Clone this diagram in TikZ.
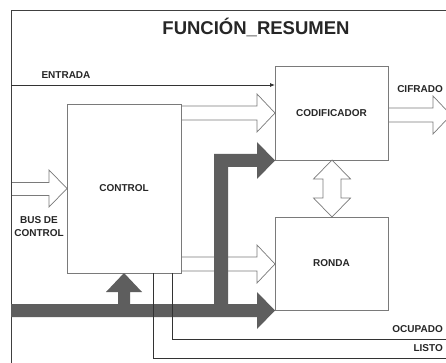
\documentclass[tikz,border=0pt]{standalone}
\usepackage{fontspec}
\setmainfont{Liberation Sans}
\usetikzlibrary{arrows.meta,calc}
\definecolor{busgray}{HTML}{5E5E5E}
\definecolor{boxline}{HTML}{7A7A7A}
\definecolor{txt}{HTML}{262626}
\tikzset{
  box/.style={draw=boxline, line width=0.8pt, minimum width=#1, outer sep=0pt, inner sep=0pt, font=\fontsize{10}{12}\selectfont\bfseries, text=txt},
  outl/.style={draw=boxline, line width=0.7pt, fill=white, line join=miter},
  bus/.style={fill=busgray, draw=none},
  sig/.style={draw=black!80, line width=0.8pt},
  lbl/.style={font=\fontsize{10}{12}\selectfont\bfseries, text=txt, inner sep=0pt},
}
% horizontal hollow arrow: x start, x tip, y center
\newcommand\hollowarr[3]{%
  \draw[outl] (#1,#3-7) -- (#2-18,#3-7) -- (#2-18,#3-19) -- (#2,#3) -- (#2-18,#3+19) -- (#2-18,#3+7) -- (#1,#3+7);}
\begin{document}
\begin{tikzpicture}[x=1pt,y=-1pt]
\clip (0,0) rectangle (446,363);
\fill[white] (0,0) rectangle (446,363);
% hollow arrows (drawn first so box edges stay on top)
\hollowarr{181}{275}{113}
\hollowarr{181}{275}{264}
\hollowarr{388}{451}{115}
\draw[outl] (11,182.5) -- (49,182.5) -- (49,170) -- (67,188.5) -- (49,207) -- (49,195.5) -- (11,195.5);
\draw[outl] (332,160) -- (350.5,179) -- (341,179) -- (341,198) -- (350.5,198) -- (332,217)
  -- (313.5,198) -- (323,198) -- (323,179) -- (313.5,179) -- cycle;
% frame
\draw[draw=black!75, line width=0.9pt] (446,10) -- (11,10) -- (11,363);
% title
\node[font=\fontsize{18.5}{22}\selectfont\bfseries, text=txt] (title) at (256,27) {FUNCIÓN\_RESUMEN};
% boxes
\node[box=113, minimum height=94] (cod) at (331.5,113) {CODIFICADOR};
\node[box=113, minimum height=93] (ronda) at (331.5,263.5) {RONDA};
\node[box=114, minimum height=169] (ctrl) at (124,188.5) {CONTROL};
% entrada
\coordinate (entIn) at (11,85);
\draw[sig, -{Latex[length=5pt,width=4pt]}] (entIn) -- (cod.west |- entIn);
\node[lbl] (lentrada) at (66,75) {ENTRADA};
% dark buses
\fill[bus] (11,304) -- (257,304) -- (257,292) -- (275,310.5) -- (257,329) -- (257,317) -- (11,317) -- cycle;
\fill[bus] (118,304.5) -- (118,292) -- (106,292) -- (124,273) -- (142,292) -- (130,292) -- (130,304.5) -- cycle;
\fill[bus] (214,304.5) -- (214,154) -- (257,154) -- (257,142) -- (275,160.5) -- (257,179) -- (257,167) -- (228,167) -- (228,304.5) -- cycle;
% labels
\node[lbl, anchor=east] (lcif) at (443,89) {CIFRADO};
\node[lbl, align=center, font=\fontsize{10}{13}\selectfont\bfseries] (lbus) at (39,227) {BUS DE\\CONTROL};
% ocupado / listo
\coordinate (ocuE) at (446,339);
\coordinate (lisE) at (446,358);
\draw[sig] (ctrl.south) ++(48,0) |- (ocuE);
\draw[sig] (ctrl.south) ++(29,0) |- (lisE);
\node[lbl, anchor=east] (locu) at (443,329) {OCUPADO};
\node[lbl, anchor=east] (llis) at (443,348.5) {LISTO};
\end{tikzpicture}
\end{document}
